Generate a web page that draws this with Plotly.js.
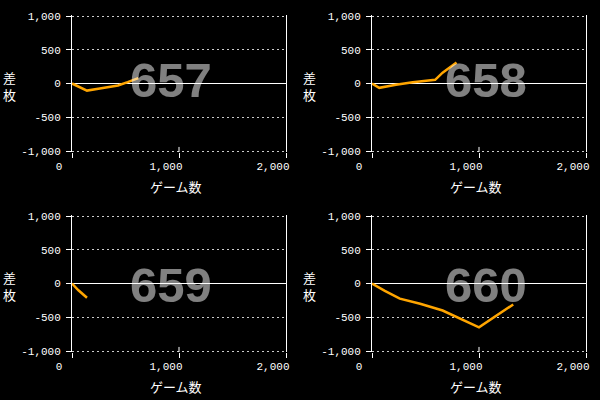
<!DOCTYPE html>
<html>
<head>
<meta charset="utf-8">
<script src="https://cdn.plot.ly/plotly-3.0.1.min.js"></script>
<style>html,body{margin:0;padding:0;background:#000;}#chart{width:600px;height:400px;}</style>
</head>
<body>
<div id="chart"></div>
<script>
// Machine numbers (one panel each)
const machines = ["657", "658", "659", "660"];
// Games played (x) and coin difference (y) per machine
const games657 = [0, 140, 260, 430, 520, 620];
const diff657  = [0, -105, -75, -30, 20, 80];
const games658 = [0, 68, 224, 380, 590, 660, 790];
const diff658  = [0, -64, -20, 20, 55, 160, 310];
const games659 = [0, 60, 140];
const diff659  = [0, -100, -212];
const games660 = [0, 120, 260, 450, 660, 1000, 1320];
const diff660  = [0, -110, -225, -300, -400, -650, -310];

const xTickVals = [0, 1000, 2000];
const xTickText = ["0", "1,000", "2,000"];
const yTickVals = [-1000, -500, 0, 500, 1000];
const yTickText = ["-1,000", "-500", "0", "500", "1,000"];
const yTitle = "差<br>枚";
const xTitle = "ゲーム数";

const seriesX = [games657, games658, games659, games660];
const seriesY = [diff657, diff658, diff659, diff660];

// plot areas in px: left, right, top(of 1000 gridline), bottom(of -1000 gridline)
const panels = [
  {l: 72, r: 286, t: 16, b: 151},
  {l: 372, r: 586, t: 16, b: 151},
  {l: 72, r: 286, t: 216, b: 351},
  {l: 372, r: 586, t: 216, b: 351}
];
const yPad = 20; // extra range beyond ±1000 so edge gridlines are drawn

const tickFont = {family: "Liberation Mono, DejaVu Sans Mono, monospace", size: 11, color: "#ffffff"};
const cjkFont = {family: "Noto Sans CJK JP, sans-serif", size: 13, color: "#ffffff"};

const traces = [];
const layout = {
  width: 600, height: 400,
  paper_bgcolor: "#000000", plot_bgcolor: "#000000",
  margin: {l: 0, r: 0, t: 0, b: 0},
  showlegend: false,
  annotations: [], shapes: []
};

for (let i = 0; i < 4; i++) {
  const n = i + 1;
  const xa = n === 1 ? "x" : "x" + n;
  const ya = n === 1 ? "y" : "y" + n;
  const p = panels[i];
  const pxPerUnit = (p.b - p.t) / 2000;
  const top = p.t - yPad * pxPerUnit;
  const bot = p.b + yPad * pxPerUnit;
  traces.push({
    type: "scatter", mode: "lines",
    x: seriesX[i], y: seriesY[i],
    xaxis: xa, yaxis: ya,
    line: {color: "#ffa500", width: 2.5},
    hoverinfo: "skip"
  });
  layout["xaxis" + (n === 1 ? "" : n)] = {
    domain: [p.l / 600, p.r / 600], anchor: ya, range: [0, 2000],
    showgrid: false, zeroline: false, showline: false,
    ticks: "outside", ticklen: 5, tickcolor: "#ffffff", tickwidth: 1,
    tickvals: xTickVals, ticktext: xTickText,
    ticklabelshift: -13, ticklabelstandoff: -2,
    tickfont: tickFont, fixedrange: true, automargin: false
  };
  layout["yaxis" + (n === 1 ? "" : n)] = {
    domain: [1 - bot / 400, 1 - top / 400], anchor: xa, range: [-1000 - yPad, 1000 + yPad],
    showgrid: true, gridcolor: "#cccccc", gridwidth: 1, griddash: "2px,3px",
    zeroline: true, zerolinecolor: "#ffffff", zerolinewidth: 1,
    showline: true, linecolor: "#ffffff", linewidth: 1, mirror: true,
    ticks: "outside", ticklen: 5, tickcolor: "#ffffff", tickwidth: 1,
    tickvals: yTickVals, ticktext: yTickText,
    ticklabelstandoff: 3,
    tickfont: tickFont, fixedrange: true, automargin: false
  };
  // inner part of the middle x tick
  layout.shapes.push({
    type: "line", xref: xa, yref: ya,
    x0: xTickVals[1], x1: xTickVals[1], y0: yTickVals[0] - yPad, y1: yTickVals[0] + 60,
    line: {color: "#ffffff", width: 1}
  });
  // y title (vertical)
  layout.annotations.push({
    xref: "paper", yref: "paper",
    x: (p.l - 62.5) / 600, y: 1 - (p.t + 69.5) / 400,
    xanchor: "center", yanchor: "middle",
    text: yTitle, showarrow: false, font: cjkFont
  });
  // x title
  layout.annotations.push({
    xref: "paper", yref: "paper",
    x: (p.l + 104) / 600, y: 1 - (p.t + 170) / 400,
    xanchor: "center", yanchor: "middle",
    text: xTitle, showarrow: false, font: cjkFont
  });
  // big machine number watermark
  const cx = (i % 2 === 0) ? 99 : 114;
  const cy = (i < 2) ? 63.5 : 68.5;
  layout.annotations.push({
    xref: "paper", yref: "paper",
    x: (p.l + cx) / 600, y: 1 - (p.t + cy) / 400,
    xanchor: "center", yanchor: "middle",
    text: "<b>" + machines[i] + "</b>", showarrow: false,
    font: {family: "Liberation Sans, Arial, sans-serif", size: 49, color: "rgba(255,255,255,0.5)"}
  });
}

Plotly.newPlot("chart", traces, layout, {staticPlot: true, displayModeBar: false});
</script>
</body>
</html>
